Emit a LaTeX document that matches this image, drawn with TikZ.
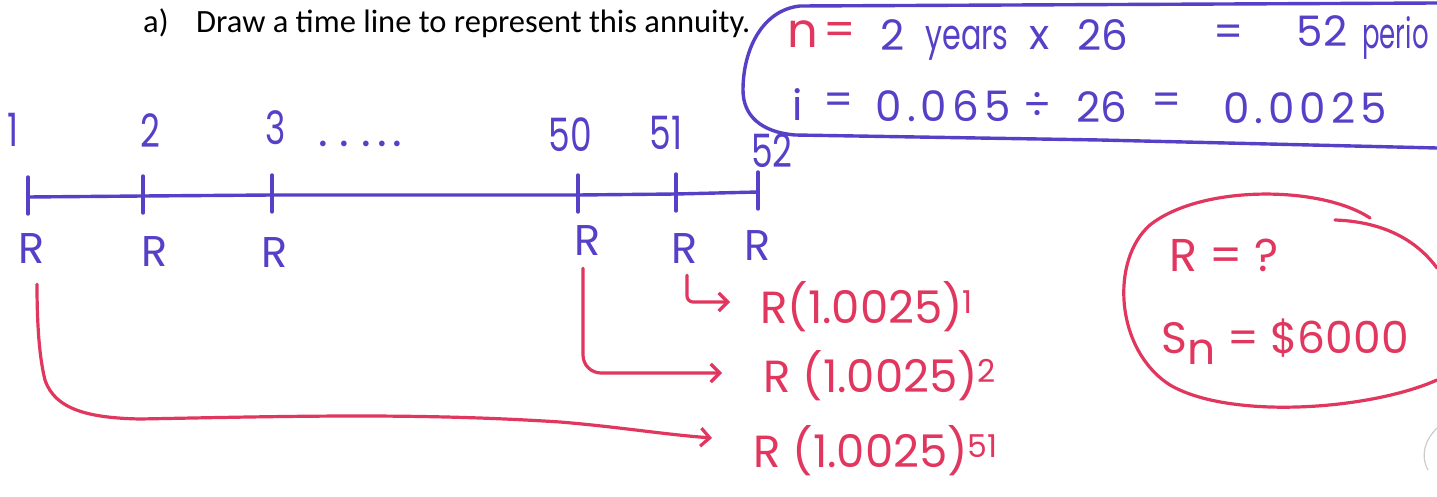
\documentclass[tikz,border=0pt]{standalone}
\usepackage{fontspec}
\usepackage{graphicx}
\setmainfont{Poppins}
\newfontfamily\titlefont{Carlito}
\newfontfamily\handfont{Poppins}
\usetikzlibrary{arrows.meta,calc}
\definecolor{ink}{RGB}{86,64,200}
\definecolor{redink}{RGB}{225,55,95}
\newcommand\hsz[1]{\fontsize{#1}{#1}\selectfont}
\newcommand\nar[1]{\scalebox{0.75}[1]{#1}}
\newcommand\spc{\addfontfeature{LetterSpace=12}}
\begin{document}
\begin{tikzpicture}[x=1pt,y=-1pt,
  bluetxt/.style={text=ink,font=\handfont\hsz{42},inner sep=0pt},
  numtxt/.style={text=ink,font=\handfont\hsz{46},inner sep=0pt},
  rtxt/.style={text=ink,font=\handfont\hsz{43},inner sep=0pt},
  redtxt/.style={text=redink,font=\handfont\hsz{45},inner sep=0pt},
  bline/.style={draw=ink,line width=3.4pt,line cap=round,line join=round},
  rline/.style={draw=redink,line width=3.2pt,line cap=round,line join=round},
  rarrow/.style={rline,-{Straight Barb[length=9pt,width=18pt]}}
]
\fill[white] (0,0) rectangle (1437,497);
\useasboundingbox (0,0) rectangle (1437,497);

% title
\node[anchor=base west,inner sep=0pt,font=\titlefont\hsz{32.5}] (title) at (143,33)
  {a)\hspace{0.85em}Draw a time line to represent this annuity.};

% blue bracket
\draw[bline] (1437,3) -- (800,6) .. controls (762,10) and (743,50) .. (743,90)
  .. controls (743,115) and (760,132) .. (795,135) -- (1100,140) -- (1437,148);

% first equation line
\node[redtxt,font=\handfont\hsz{48}] (nv) at (803,34) {n};
\node[redtxt] (eqa) at (840,34) {=};
\node[bluetxt] (two) at (893,35) {2};
\node[bluetxt,anchor=base] (yrs) at (967,50) {\scalebox{0.72}[1]{years}};
\node[bluetxt] (xx) at (1040,38) {x};
\node[bluetxt] (ta) at (1103,35) {26};
\node[bluetxt] (eqb) at (1229,36) {=};
\node[bluetxt] (fifty2) at (1322,31) {52};
\node[bluetxt,anchor=base west] (per) at (1362,49) {\scalebox{0.62}[1]{perio}};

% second equation line
\node[bluetxt] (iv) at (798,105) {i};
\node[bluetxt] (eqc) at (839,104) {=};
\node[bluetxt] (rate) at (943,106) {\spc 0.065};
\node[bluetxt] (dv) at (1037,106) {÷};
\node[bluetxt] (tb) at (1102,107) {26};
\node[bluetxt] (eqd) at (1167,104) {=};
\node[bluetxt] (res) at (1305,108) {\spc 0.0025};

% timeline
\coordinate (t1) at (28,197);
\coordinate (t2) at (143,196);
\coordinate (t3) at (272,195);
\coordinate (t50) at (578,195);
\coordinate (t51) at (676,194);
\coordinate (t52) at (758,192);
\draw[bline] (t1) -- (t2) -- (t3) -- (t50) -- (t51) -- (t52);
\foreach \t in {t1,t2,t3,t50,t51,t52}
  \draw[bline] ($(\t)+(0,-20)$) -- ($(\t)+(0,17)$);

% period numbers
\node[numtxt] (n1) at (13,130) {\nar{1}};
\node[numtxt] (n2) at (150,131) {\nar{2}};
\node[numtxt] (n3) at (276,128) {\nar{3}};
\node[numtxt,anchor=base west] (dots) at (318,147) {.\hspace{12pt}.\hspace{12pt}.\hspace{6pt}.\hspace{6pt}.};
\node[numtxt] (n50) at (570,135) {\nar{50}};
\node[numtxt] (n51) at (666,133) {\nar{51}};
\node[numtxt] (n52) at (772,151) {\nar{52}};

% payments
\node[rtxt] (R1) at (32,249) {R};
\node[rtxt] (R2) at (155,252) {R};
\node[rtxt] (R3) at (275,253) {R};
\node[rtxt] (R50) at (588,241) {R};
\node[rtxt] (R51) at (685,249) {R};
\node[rtxt] (R52) at (758,246) {R};

% accumulated values
\node[redtxt,anchor=base west] (e1) at (760,323) {R(1.0025)\textsuperscript{1}};
\node[redtxt,anchor=base west] (e2) at (763,392) {R (1.0025)\textsuperscript{2}};
\node[redtxt,anchor=base west] (e51) at (753,467) {R (1.0025)\textsuperscript{51}};

\draw[rarrow,rounded corners=6pt] ($(R51.south)+(2,11)$) |- ($(e1.base west)+(-30,-21)$);
\draw[rarrow,rounded corners=18pt] ($(R50.south)+(-5,12)$) |- ($(e2.base west)+(-41,-19)$);
\draw[rarrow] ($(R1.south)+(5,20)$) .. controls (37,330) and (40,360) .. (45,380)
  .. controls (55,410) and (90,418) .. (140,419)
  .. controls (300,416) and (420,413) .. (560,422)
  .. controls (620,427) and (660,434) .. ($(e51.base west)+(-41,-29)$);

% red oval with unknowns
\draw[rline] (1370,218) .. controls (1320,185) and (1200,185) .. (1150,225)
  .. controls (1110,260) and (1115,350) .. (1170,385)
  .. controls (1230,420) and (1370,410) .. (1437,380);
\draw[rline] (1335,220) .. controls (1390,222) and (1420,245) .. (1437,268);
\node[redtxt,font=\handfont\hsz{46}] (Rq) at (1224,255) {R = ?};
\node[redtxt,font=\handfont\hsz{44}] (Sn) at (1285,342) {S\raisebox{-0.25em}{n} = \$6000};

% faint scan mark
\draw[gray!40,line width=1.2pt] (1437,428) .. controls (1425,440) and (1420,455) .. (1428,470);
\end{tikzpicture}
\end{document}
